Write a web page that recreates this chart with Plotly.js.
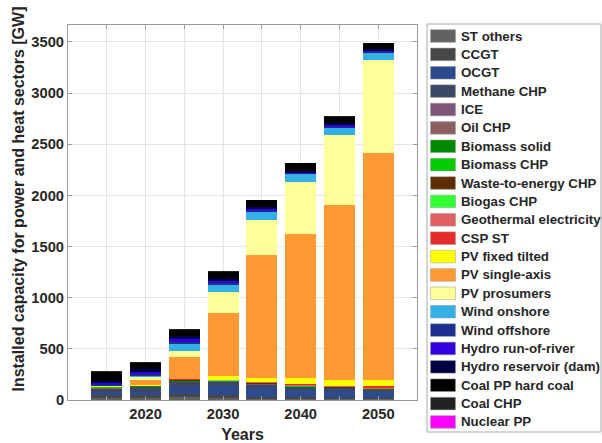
<!DOCTYPE html>
<html>
<head>
<meta charset="utf-8">
<script src="https://cdn.plot.ly/plotly-3.0.1.min.js"></script>
<style>html,body{margin:0;padding:0;background:#fff;}#chart{width:602px;height:443px;}</style>
</head>
<body>
<div id="chart"></div>
<script>
// ---- data (GW), years 2015..2050 ----
const years = [2015, 2020, 2025, 2030, 2035, 2040, 2045, 2050];
const xTickLabels = ['', '2020', '', '2030', '', '2040', '', '2050'];

const stOthers      = [22, 20, 25, 19, 13, 10, 8, 8];
const ccgt          = [27, 29, 34, 30, 20, 15, 12, 12];
const ocgt          = [25, 30, 70, 85, 80, 68, 68, 55];
const methaneChp    = [34, 45, 44, 45, 37, 30, 26, 23];
const ice           = [4, 3, 3, 2, 2, 1, 1, 1];
const oilChp        = [3, 2, 2, 1, 1, 1, 1, 1];
const biomassSolid  = [6, 4, 6, 3, 4, 4, 3, 3];
const biomassChp    = [4, 3, 5, 3, 4, 4, 3, 4];
const wasteChp      = [3, 2, 3, 2, 2, 2, 2, 2];
const biogasChp     = [2, 1, 3, 2, 3, 3, 2, 2];
const geothermal    = [1, 1, 4, 2, 6, 9, 7, 10];
const cspSt         = [0, 0, 2, 1, 7, 9, 7, 12];
const pvFixed       = [1, 6, 5, 42, 36, 55, 59, 63];
const pvSingleAxis  = [1, 53, 212, 613, 1207, 1413, 1709, 2217];
const pvProsumers   = [1, 23, 59, 202, 339, 505, 678, 914];
const windOnshore   = [6, 16, 72, 75, 75, 75, 75, 65];
const windOffshore  = [10, 15, 20, 20, 12, 8, 12, 10];
const hydroRor      = [15, 22, 24, 20, 15, 10, 15, 13];
const hydroDam      = [25, 28, 28, 25, 22, 15, 22, 20];
const coalHard      = [80, 58, 68, 58, 66, 77, 58, 55];
const coalChp       = [11, 7, 7, 7, 6, 5, 4, 4];
const nuclear       = [0, 0, 0, 0, 0, 0, 0, 0];

const seriesNames = ['ST others','CCGT','OCGT','Methane CHP','ICE','Oil CHP','Biomass solid','Biomass CHP',
  'Waste-to-energy CHP','Biogas CHP','Geothermal electricity','CSP ST','PV fixed tilted','PV single-axis',
  'PV prosumers','Wind onshore','Wind offshore','Hydro run-of-river','Hydro reservoir (dam)',
  'Coal PP hard coal','Coal CHP','Nuclear PP'];
const seriesValues = [stOthers, ccgt, ocgt, methaneChp, ice, oilChp, biomassSolid, biomassChp,
  wasteChp, biogasChp, geothermal, cspSt, pvFixed, pvSingleAxis, pvProsumers, windOnshore,
  windOffshore, hydroRor, hydroDam, coalHard, coalChp, nuclear];
const seriesColors = ['#626262','#474747','#2d4b8c','#3b4865','#7d5577','#8c5f5f','#008a00','#00cc00',
  '#5c2e00','#33ff33','#e06060','#e62b2b','#ffff00','#ff9933','#ffff99','#33b0e6','#1a2f8f','#3300dd',
  '#000044','#000000','#222222','#ff00ff'];

// ---- layout geometry (pixels) ----
const W = 602, H = 443;
const PL = 68, PR = 417, PT = 25, PB = 400;
const px2x = p => (p - PL) / (PR - PL);
const px2y = p => (PB - p) / (PB - PT);

const FONT = 'Liberation Sans, Arial, Helvetica, sans-serif';
const TXT = '#262626';

const traces = seriesNames.map((name, i) => ({
  type: 'bar',
  name: name,
  x: years,
  y: seriesValues[i],
  marker: {color: seriesColors[i], line: {width: 0}},
  hoverinfo: 'name+y'
}));

// manual legend
const shapes = [{
  type: 'rect', xref: 'paper', yref: 'paper',
  x0: px2x(427), x1: px2x(601), y0: px2y(432), y1: px2y(24),
  line: {color: '#a8a8a8', width: 1}, fillcolor: 'rgba(0,0,0,0)', layer: 'above'
}];
const annotations = [];
const step = 18.38, firstY = 36;
seriesNames.forEach((name, i) => {
  const cy = firstY + i * step;
  shapes.push({
    type: 'rect', xref: 'paper', yref: 'paper',
    x0: px2x(430.5), x1: px2x(455.5), y0: px2y(cy + 6.3), y1: px2y(cy - 6.3),
    fillcolor: seriesColors[i], line: {color: '#9a9a9a', width: 0.5}, layer: 'above'
  });
  annotations.push({
    xref: 'paper', yref: 'paper', x: px2x(459), y: px2y(cy),
    xanchor: 'left', yanchor: 'middle', showarrow: false,
    text: name, font: {family: FONT, size: 13.3, color: TXT, weight: 700}
  });
});
// y-axis title
annotations.push({
  xref: 'paper', yref: 'paper', x: px2x(17.5), y: px2y(199),
  xanchor: 'center', yanchor: 'middle', showarrow: false, textangle: -90,
  text: 'Installed capacity for power and heat sectors [GW]',
  font: {family: FONT, size: 16, color: TXT, weight: 700}
});

const layout = {
  width: W, height: H,
  margin: {l: PL, r: W - PR, t: PT, b: H - PB, pad: 0},
  paper_bgcolor: '#fff', plot_bgcolor: '#fff',
  barmode: 'stack', bargap: 0.2,
  showlegend: false,
  font: {family: FONT, color: TXT},
  xaxis: {
    range: [2010, 2055], tickmode: 'array', tickvals: years, ticktext: xTickLabels,
    showgrid: true, gridcolor: '#e4e4e4', gridwidth: 1, zeroline: false,
    showline: true, linecolor: '#9a9a9a', linewidth: 1, mirror: 'ticks',
    ticks: 'inside', ticklen: 4, tickcolor: '#9a9a9a',
    tickfont: {family: FONT, size: 14.7, color: TXT, weight: 700},
    title: {text: 'Years', font: {family: FONT, size: 16, color: TXT, weight: 700}, standoff: 9},
    automargin: false, fixedrange: true
  },
  yaxis: {
    range: [0, 3665], dtick: 500, tick0: 0,
    showgrid: true, gridcolor: '#e4e4e4', gridwidth: 1, zeroline: false,
    showline: true, linecolor: '#9a9a9a', linewidth: 1, mirror: 'ticks',
    ticks: 'inside', ticklen: 4, tickcolor: '#9a9a9a',
    tickfont: {family: FONT, size: 14.7, color: TXT, weight: 700},
    automargin: false, fixedrange: true
  },
  shapes: shapes,
  annotations: annotations
};

Plotly.newPlot('chart', traces, layout, {displayModeBar: false, staticPlot: true});
</script>
</body>
</html>
